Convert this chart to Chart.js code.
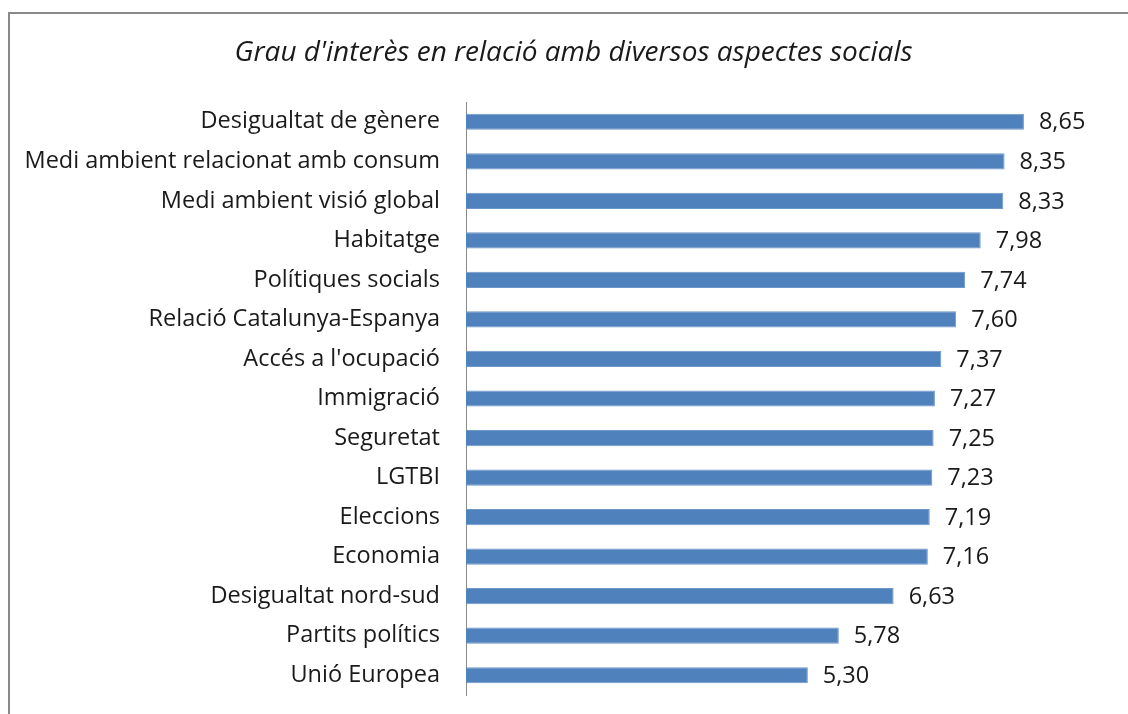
<!DOCTYPE html>
<html>
<head>
<meta charset="utf-8">
<script src="https://cdn.jsdelivr.net/npm/chart.js@4.4.1/dist/chart.umd.min.js"></script>
<style>
  html, body { margin: 0; padding: 0; background: #fff; }
  #wrap { position: relative; width: 1128px; height: 714px; overflow: hidden; }
  #frame { position: absolute; left: 8px; top: 12px; width: 1200px; height: 800px; border: 2px solid #8a8a8a; box-sizing: border-box; }
  canvas { position: absolute; left: 0; top: 0; }
</style>
</head>
<body>
<div id="wrap">
  <div id="frame"></div>
  <canvas id="c" width="1128" height="714" style="width:1128px;height:714px"></canvas>
</div>
<script>
const titleText = "Grau d'interès en relació amb diversos aspectes socials";
const categories = [
  "Desigualtat de gènere",
  "Medi ambient relacionat amb consum",
  "Medi ambient visió global",
  "Habitatge",
  "Polítiques socials",
  "Relació Catalunya-Espanya",
  "Accés a l'ocupació",
  "Immigració",
  "Seguretat",
  "LGTBI",
  "Eleccions",
  "Economia",
  "Desigualtat nord-sud",
  "Partits polítics",
  "Unió Europea"
];
const values = [8.65, 8.35, 8.33, 7.98, 7.74, 7.60, 7.37, 7.27, 7.25, 7.23, 7.19, 7.16, 6.63, 5.78, 5.30];

const FONT = "'Open Sans', Lato, sans-serif";

const valueLabels = {
  id: 'valueLabels',
  afterDatasetsDraw(chart) {
    const ctx = chart.ctx;
    const meta = chart.getDatasetMeta(0);
    ctx.save();
    ctx.font = "23.5px " + FONT;
    ctx.fillStyle = "#1a1a1a";
    ctx.textAlign = "left";
    ctx.textBaseline = "middle";
    meta.data.forEach((bar, i) => {
      const txt = values[i].toFixed(2).replace('.', ',');
      ctx.fillText(txt, bar.x + 15, bar.y + 1);
    });
    ctx.restore();
  }
};

new Chart(document.getElementById('c'), {
  type: 'bar',
  data: {
    labels: categories,
    datasets: [{
      data: values,
      backgroundColor: '#4f81bd',
      borderColor: '#6d96c9',
      borderWidth: 1,
      categoryPercentage: 1,
      barPercentage: 0.41
    }]
  },
  options: {
    indexAxis: 'y',
    responsive: false,
    maintainAspectRatio: false,
    animation: false,
    layout: { padding: { left: 36, right: 17, top: 0, bottom: 19 } },
    plugins: {
      legend: { display: false },
      tooltip: { enabled: false },
      title: {
        display: true,
        text: titleText,
        color: '#1a1a1a',
        font: { family: FONT, size: 28, style: 'italic', weight: 'normal', lineHeight: 1.2 },
        padding: { top: 36.3, bottom: 32.1 }
      }
    },
    scales: {
      x: { display: false, min: 0, max: 10 },
      y: {
        afterFit(scale) {
          scale.width = 430;
          scale.paddingTop = 0;
          scale.paddingBottom = 0;
          scale._computeLabelArea = () => undefined;
        },
        grid: { display: false, drawTicks: false },
        border: { display: true, color: '#8a8a8a', width: 1 },
        ticks: { color: '#1a1a1a', padding: 26, font: { family: FONT, size: 23.5 } }
      }
    }
  },
  plugins: [valueLabels]
});
</script>
</body>
</html>
